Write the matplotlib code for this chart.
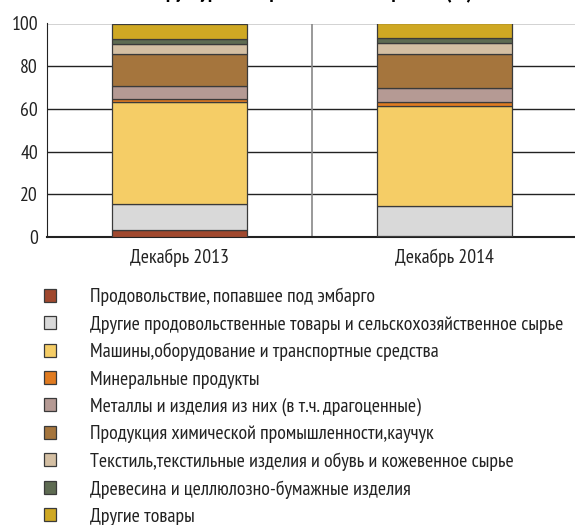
import matplotlib
matplotlib.use("Agg")
import matplotlib.pyplot as plt
import numpy as np

# narrow grotesque with cyrillic, DejaVu as fallback
plt.rcParams["font.family"] = ["PT Sans Narrow", "DejaVu Sans"]

periods = ["Декабрь 2013", "Декабрь 2014"]
groups = [
    "Продовольствие, попавшее под эмбарго",
    "Другие продовольственные товары и сельскохозяйственное сырье",
    "Машины,оборудование и транспортные средства",
    "Минеральные продукты",
    "Металлы и изделия из них (в т.ч. драгоценные)",
    "Продукция химической промышленности,каучук",
    "Текстиль,текстильные изделия и обувь и кожевенное сырье",
    "Древесина и целлюлозно-бумажные изделия",
    "Другие товары",
]
share_2013 = [3.1, 12.4, 47.6, 1.6, 5.8, 15.3, 4.8, 2.1, 7.3]
share_2014 = [0.3, 14.1, 46.8, 1.8, 6.8, 15.7, 5.3, 2.3, 6.9]
colors = ["#a0482e", "#d9d9d9", "#f5cd66", "#e07b20", "#b59a94",
          "#a5753d", "#d4bfa3", "#5e6b52", "#cfa823"]

fig = plt.figure(figsize=(5.75, 5.25), dpi=100)
ax = fig.add_axes([47 / 575, 1 - 237 / 525, 530 / 575, 213.5 / 525])

x = np.arange(len(periods))
bottom = np.zeros(len(periods))
handles = []
for i, name in enumerate(groups):
    vals = np.array([share_2013[i], share_2014[i]])
    b = ax.bar(x, vals, 0.512, bottom=bottom, color=colors[i],
               edgecolor="#3a3a3a", linewidth=0.9, zorder=3, label=name)
    handles.append(b)
    bottom += vals

ax.set_xlim(-0.5, 1.5)
ax.set_ylim(0, 100)
ax.set_yticks([0, 20, 40, 60, 80, 100])
ax.set_xticks(x)
ax.set_xticklabels(periods)
ax.tick_params(length=0, labelsize=14.2, pad=8, colors="#222222")
ax.tick_params(axis="y", pad=6.5)
for y in [20, 40, 60, 80, 100]:
    ax.axhline(y, color="#222222", lw=1, zorder=1)
ax.axvline(0.5, color="#888888", lw=1.2, zorder=1)
for s in ["top", "right"]:
    ax.spines[s].set_visible(False)
ax.spines["left"].set_color("#222222")
ax.spines["bottom"].set_color("#222222")
ax.spines["bottom"].set_linewidth(1.5)

# title is cut off by the top edge in the original, only descenders show
fig.text(0.54, 1 + 1.5 / 525, "Структура импорта России из стран ЕС (%)",
         ha="center", va="baseline", fontsize=15, fontweight="bold")

leg = fig.legend(handles=handles, loc="upper left", bbox_to_anchor=(36.1 / 575, 1 - 280 / 525),
                 frameon=False, fontsize=14.4, handlelength=0.6, handleheight=0.6,
                 handletextpad=1.72, labelspacing=0.46, borderaxespad=0)
for t in leg.get_texts():
    t.set_color("#222222")

fig.savefig("out.png", dpi=100)
